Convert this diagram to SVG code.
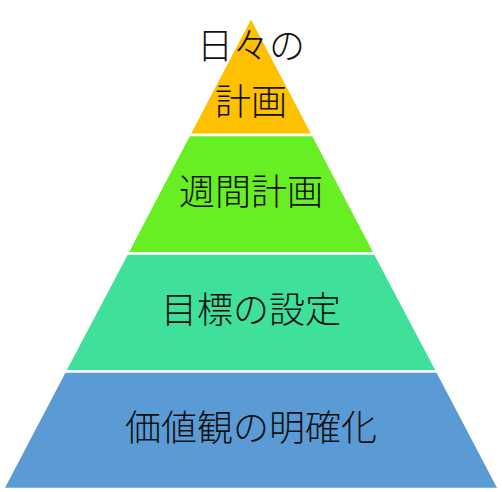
<svg xmlns="http://www.w3.org/2000/svg" width="502" height="492" viewBox="0 0 502 492">
  <style>
    .layer { stroke: #ffffff; stroke-width: 2.5; stroke-linejoin: miter; }
    .label { font-family: "Noto Sans CJK JP", "Noto Sans CJK SC", sans-serif; font-size: 36px; font-weight: 300; fill: #111111; text-anchor: middle; }
  </style>
  <rect width="502" height="492" fill="#ffffff"/>
  <g id="layer-daily">
    <polygon class="layer" points="251,17 313,135 189,135" fill="#FFC000"/>
    <text class="label" x="251" y="59">日々の</text>
    <text class="label" x="251" y="115">計画</text>
  </g>
  <g id="layer-weekly">
    <polygon class="layer" points="189,135 313,135 375,253.5 127,253.5" fill="#67EF23"/>
    <text class="label" x="251" y="205">週間計画</text>
  </g>
  <g id="layer-goals">
    <polygon class="layer" points="127,253.5 375,253.5 437.3,371.5 64.7,371.5" fill="#3EE09A"/>
    <text class="label" x="251" y="323">目標の設定</text>
  </g>
  <g id="layer-values">
    <polygon class="layer" points="64.7,371.5 437.3,371.5 499,489 3,489" fill="#5B9BD5"/>
    <text class="label" x="251" y="441">価値観の明確化</text>
  </g>
  <g id="connectors"></g>
</svg>
